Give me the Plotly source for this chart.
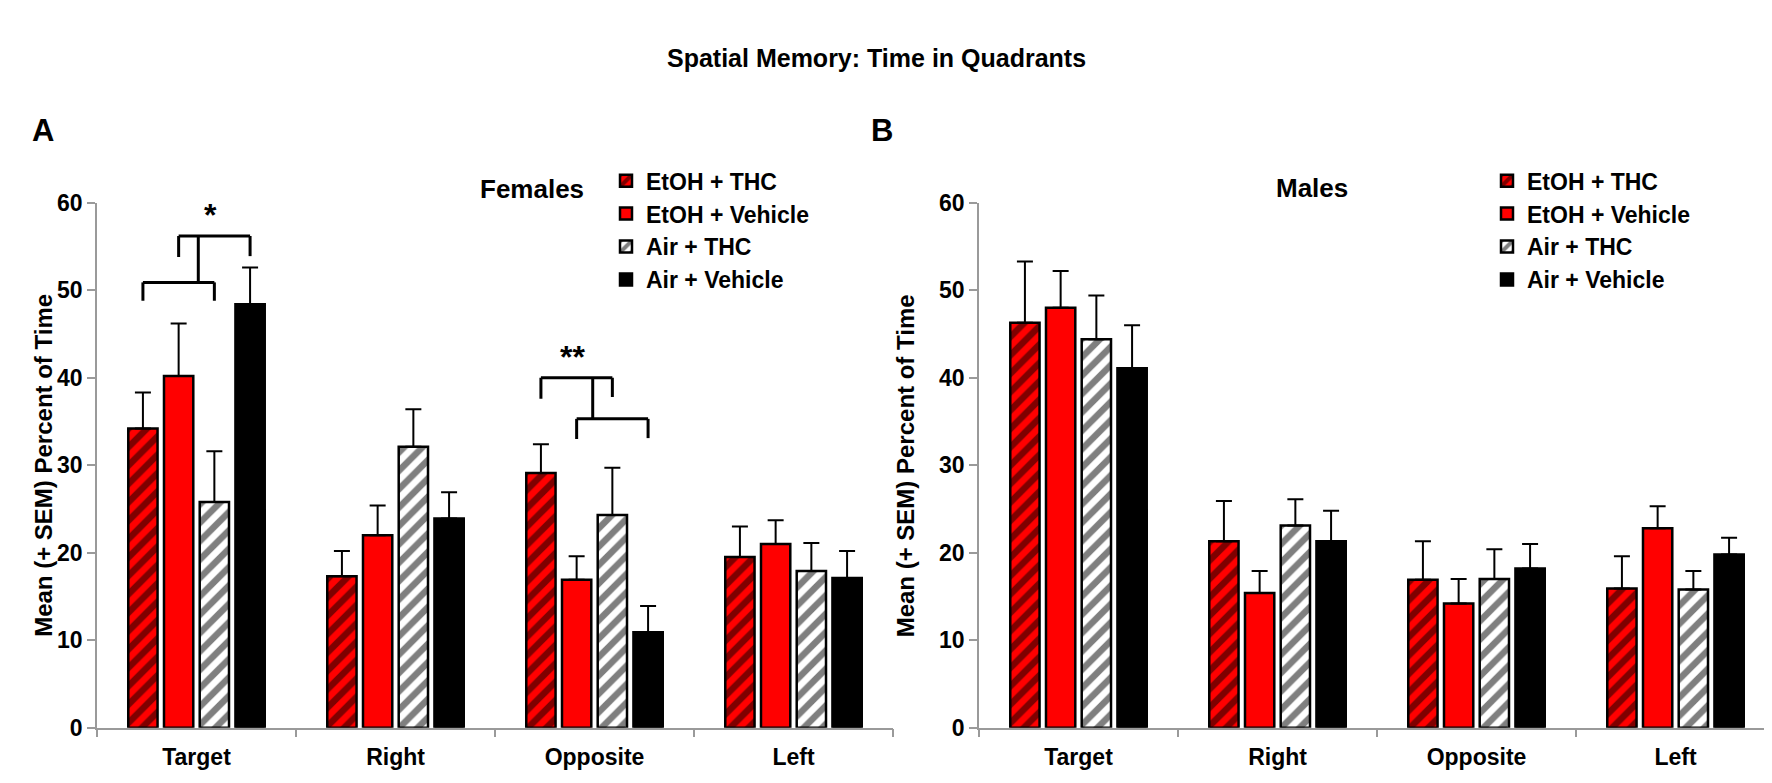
import plotly.graph_objects as go

# Quadrants and treatment groups
quadrants = ["Target", "Right", "Opposite", "Left"]
groups = ["EtOH + THC", "EtOH + Vehicle", "Air + THC", "Air + Vehicle"]

# Females: mean percent of time per quadrant
fem_etoh_thc = [34.2, 17.3, 29.1, 19.5]
fem_etoh_veh = [40.2, 22.0, 16.9, 21.0]
fem_air_thc = [25.8, 32.1, 24.3, 17.9]
fem_air_veh = [48.4, 23.9, 10.9, 17.1]
# Females: SEM
fem_etoh_thc_sem = [4.1, 2.9, 3.3, 3.5]
fem_etoh_veh_sem = [6.0, 3.4, 2.7, 2.7]
fem_air_thc_sem = [5.8, 4.3, 5.4, 3.2]
fem_air_veh_sem = [4.2, 3.0, 3.0, 3.1]

# Males: mean percent of time per quadrant
male_etoh_thc = [46.3, 21.3, 16.9, 15.9]
male_etoh_veh = [48.0, 15.4, 14.2, 22.8]
male_air_thc = [44.4, 23.1, 17.0, 15.8]
male_air_veh = [41.1, 21.3, 18.2, 19.8]
# Males: SEM
male_etoh_thc_sem = [7.0, 4.6, 4.4, 3.7]
male_etoh_veh_sem = [4.2, 2.5, 2.8, 2.5]
male_air_thc_sem = [5.0, 3.0, 3.4, 2.1]
male_air_veh_sem = [4.9, 3.5, 2.8, 1.9]

FONT = "Liberation Sans, Arial, sans-serif"
RED = "#ff0000"

# bar style per group: (background, pattern shape)
styles = [(RED, "/"), (RED, ""), ("white", "/"), ("black", "")]

female = [(fem_etoh_thc, fem_etoh_thc_sem), (fem_etoh_veh, fem_etoh_veh_sem),
          (fem_air_thc, fem_air_thc_sem), (fem_air_veh, fem_air_veh_sem)]
male = [(male_etoh_thc, male_etoh_thc_sem), (male_etoh_veh, male_etoh_veh_sem),
        (male_air_thc, male_air_thc_sem), (male_air_veh, male_air_veh_sem)]

fig = go.Figure()

for data, xa, ya, leg in [(female, "x", "y", "legend"), (male, "x2", "y2", "legend2")]:
    for i, (means, sem) in enumerate(data):
        bg, shape = styles[i]
        fig.add_trace(go.Bar(
            x=quadrants, y=means, name=groups[i],
            xaxis=xa, yaxis=ya, legend=leg,
            offsetgroup=str(i),
            marker=dict(
                color=bg,
                line=dict(color="black", width=2.5),
                pattern=dict(shape=shape, fgcolor="black", bgcolor=bg,
                             size=13, solidity=0.5),
            ),
            error_y=dict(type="data", array=sem, arrayminus=[0] * len(sem),
                         symmetric=False, color="black", thickness=2, width=8),
        ))

bargap = 0.282
slot = (1 - bargap) / 4


def center(cat, grp):
    return quadrants.index(cat) + (grp - 1.5) * slot


def bracket(x0, x1, y, leg0, leg1):
    ln = dict(color="black", width=3)
    fig.add_shape(type="line", x0=x0, x1=x1, y0=y, y1=y, xref="x", yref="y", line=ln)
    fig.add_shape(type="line", x0=x0, x1=x0, y0=y, y1=leg0, xref="x", yref="y", line=ln)
    fig.add_shape(type="line", x0=x1, x1=x1, y0=y, y1=leg1, xref="x", yref="y", line=ln)


def stem(x, y0, y1):
    fig.add_shape(type="line", x0=x, x1=x, y0=y0, y1=y1, xref="x", yref="y",
                  line=dict(color="black", width=3))


# Target (females) significance
bracket(center("Target", 0), center("Target", 2), 50.9, 48.8, 48.8)
bracket(center("Target", 1), center("Target", 3), 56.2, 53.8, 53.9)
stem(center("Target", 1) + 0.55 * slot, 50.9, 56.2)
# Opposite (females) significance
bracket(center("Opposite", 0), center("Opposite", 2), 40.0, 37.6, 37.8)
bracket(center("Opposite", 1), center("Opposite", 3), 35.3, 33.0, 33.1)
stem(center("Opposite", 1) + 0.45 * slot, 35.3, 40.0)

bold = dict(family=FONT, color="black", weight="bold")
ytitle = "Mean (+ SEM) Percent of Time"

annotations = [
    dict(text="*", x=center("Target", 2) - 0.02, y=58.6, xref="x", yref="y",
         showarrow=False, font=dict(size=32, **bold)),
    dict(text="**", x=center("Opposite", 1) - 0.02, y=42.4, xref="x", yref="y",
         showarrow=False, font=dict(size=32, **bold)),
    dict(text="Spatial Memory: Time in Quadrants", x=0.49, y=1 - 22 / 783,
         xref="paper", yref="paper", showarrow=False, font=dict(size=25, **bold)),
    dict(text="A", x=22 / 1772, y=1 - 93 / 783, xref="paper", yref="paper",
         showarrow=False, font=dict(size=31, **bold)),
    dict(text="B", x=874 / 1772, y=1 - 93 / 783, xref="paper", yref="paper",
         showarrow=False, font=dict(size=31, **bold)),
    dict(text="Females", x=470 / 1772, y=1 - 156 / 783, xref="paper", yref="paper",
         showarrow=False, font=dict(size=26, **bold)),
    dict(text="Males", x=1342 / 1772, y=1 - 155 / 783, xref="paper", yref="paper",
         showarrow=False, font=dict(size=26, **bold)),
    dict(text=ytitle, x=20 / 1772, y=0.413, xref="paper", yref="paper",
         textangle=-90, showarrow=False, font=dict(size=24, **bold)),
    dict(text=ytitle, x=897 / 1772, y=0.413, xref="paper", yref="paper",
         textangle=-90, showarrow=False, font=dict(size=24, **bold)),
]

ydom = [1 - 731 / 783, 1 - 188 / 783]
yax = dict(range=[0, 60], dtick=10, domain=ydom, showgrid=False, zeroline=False,
           showline=True, linecolor="#9a9a9a", linewidth=1.5, ticks="outside",
           ticklen=8, tickcolor="#9a9a9a", tickwidth=1.5,
           tickfont=dict(size=23, **bold))
xax = dict(showgrid=False, zeroline=False, showline=True, linecolor="#9a9a9a",
           linewidth=1.5, ticks="outside", tickson="boundaries", ticklen=8,
           tickcolor="#9a9a9a", tickwidth=1.5, tickfont=dict(size=23, **bold),
           ticklabelstandoff=8, range=[-0.5, 3.5])

leg_common = dict(xanchor="left", yanchor="top", bgcolor="rgba(0,0,0,0)",
                  font=dict(size=23, **bold), itemclick=False, tracegroupgap=0)

fig.update_layout(
    width=1772, height=783,
    margin=dict(l=0, r=0, t=0, b=0),
    paper_bgcolor="white", plot_bgcolor="white",
    barmode="group", bargap=bargap, bargroupgap=0.18,
    xaxis=dict(domain=[89 / 1772, 885 / 1772], anchor="y", **xax),
    yaxis=dict(anchor="x", **yax),
    xaxis2=dict(domain=[971 / 1772, 1767 / 1772], anchor="y2", **xax),
    yaxis2=dict(anchor="x2", **yax),
    legend=dict(x=598 / 1772, y=1 - 143 / 783, **leg_common),
    legend2=dict(x=1479 / 1772, y=1 - 143 / 783, **leg_common),
    annotations=annotations,
    font=dict(family=FONT),
)

fig.write_html("out.html")
